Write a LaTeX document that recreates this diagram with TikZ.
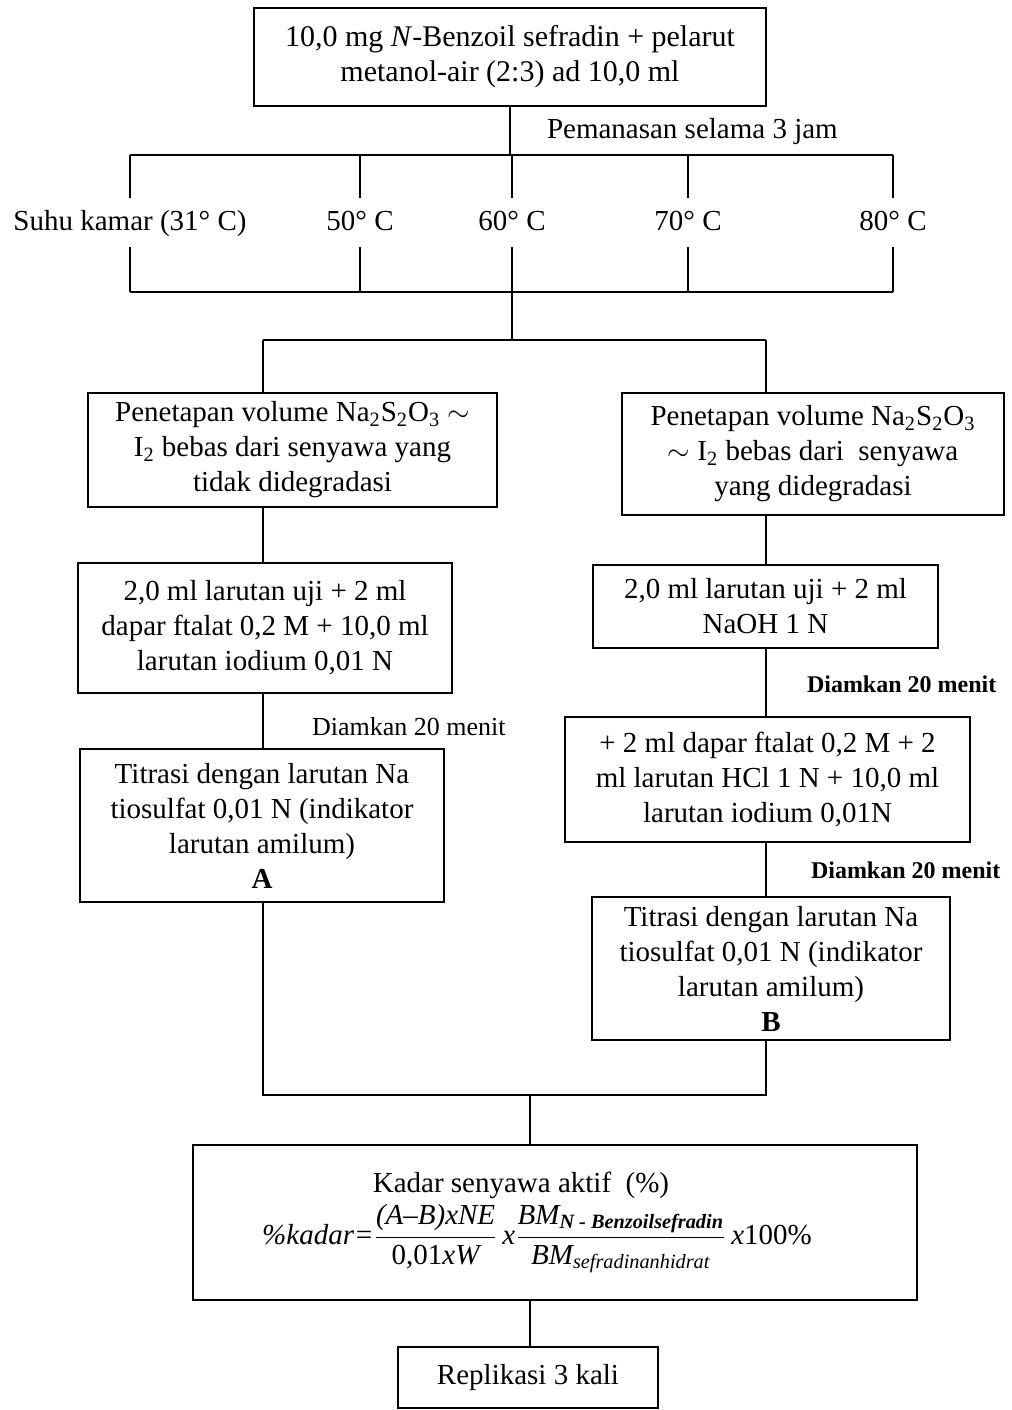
\documentclass[tikz,border=0pt]{standalone}
\usepackage{amsmath}
\usepackage{fontspec}
\setmainfont{Liberation Serif}
\usetikzlibrary{positioning}

\begin{document}
\begin{tikzpicture}[x=0.5pt,y=-0.5pt,line width=1pt,
  box/.style={draw,align=center,inner sep=0pt,font=\fontsize{14.5}{17.5}\selectfont},
  temp/.style={inner sep=0pt,minimum height=23.5pt,text height=10.5pt,text depth=3pt,font=\fontsize{14.5}{17.5}\selectfont},
  note/.style={anchor=west,inner sep=0pt,font=\fontsize{13}{15}\selectfont},
  bnote/.style={anchor=west,inner sep=0pt,font=\fontsize{12}{14}\selectfont\bfseries}]
  \useasboundingbox (0,0) rectangle (1012,1410);
  % sample and heating
  \node[box,minimum width=256pt,minimum height=49pt,font=\fontsize{15}{17.5}\selectfont] (top) at (510,57)
    {10,0 mg \textit{N}-Benzoil sefradin + pelarut\\metanol-air (2:3) ad 10,0 ml};
  \coordinate (heat) at (512,155);
  \coordinate (mix) at (512,292);
  \draw (top.south) -- (top.south |- heat);
  \node[note,font=\fontsize{14.5}{17}\selectfont] (heatlbl) at (546,132) {Pemanasan selama 3 jam};
  \foreach \n/\x/\t in {1/130/{Suhu kamar (31° C)},2/360/{50° C},3/512/{60° C},4/688/{70° C},5/893/{80° C}} {
    \node[temp] (t\n) at (\x,222.5) {\t};
    \draw (t\n.north |- heat) -- (t\n.north);
    \draw (t\n.south) -- (t\n.south |- mix);
  }
  \draw (t1.north |- heat) -- (t5.north |- heat);
  \draw (t1.south |- mix) -- (t5.south |- mix);
  % two ways of titration
  \coordinate (split) at (512,340);
  \coordinate (lcol) at (263,340);
  \coordinate (rcol) at (766,340);
  \draw (mix) -- (split);
  \draw (lcol) -- (rcol);
  \node[box,minimum width=204.5pt,minimum height=57pt] (pen1) at (292.5,450)
    {Penetapan volume Na\textsubscript{2}S\textsubscript{2}O\textsubscript{3} $\sim$\\I\textsubscript{2} bebas dari senyawa yang\\tidak didegradasi};
  \node[box,minimum width=191pt,minimum height=61pt] (pen2) at (813,454)
    {Penetapan volume Na\textsubscript{2}S\textsubscript{2}O\textsubscript{3}\\$\sim$ I\textsubscript{2} bebas dari\ \ senyawa\\yang didegradasi};
  \node[box,minimum width=187pt,minimum height=65pt] (mixA) at (265,628)
    {2,0 ml larutan uji + 2 ml\\dapar ftalat 0,2 M + 10,0 ml\\larutan iodium 0,01 N};
  \node[box,minimum width=182pt,minimum height=76.5pt] (titA) at (262,825.5)
    {Titrasi dengan larutan Na\\tiosulfat 0,01 N (indikator\\larutan amilum)\\\textbf{A}};
  \node[box,minimum width=172.5pt,minimum height=41.5pt] (mixB) at (765.5,606.5)
    {2,0 ml larutan uji + 2 ml\\NaOH 1 N};
  \node[box,minimum width=202.5pt,minimum height=62.5pt] (acidB) at (767.5,779.5)
    {+ 2 ml dapar ftalat 0,2 M + 2\\ml larutan HCl 1 N + 10,0 ml\\larutan iodium 0,01N};
  \node[box,minimum width=179pt,minimum height=71.5pt] (titB) at (771,968.5)
    {Titrasi dengan larutan Na\\tiosulfat 0,01 N (indikator\\larutan amilum)\\\textbf{B}};
  \draw (lcol) -- (lcol |- pen1.north);
  \draw (rcol) -- (rcol |- pen2.north);
  \draw (lcol |- pen1.south) -- (lcol |- mixA.north);
  \draw (lcol |- mixA.south) -- (lcol |- titA.north);
  \draw (rcol |- pen2.south) -- (rcol |- mixB.north);
  \draw (rcol |- mixB.south) -- (rcol |- acidB.north);
  \draw (rcol |- acidB.south) -- (rcol |- titB.north);
  \node[note] (waitA) at (311,727) {Diamkan 20 menit};
  \node[bnote] (waitB) at (806,684) {Diamkan 20 menit};
  \node[bnote] (waitC) at (810,870) {Diamkan 20 menit};
  % result
  \coordinate (join) at (530,1095);
  \draw (lcol |- titA.south) -- (lcol |- join) -- (rcol |- join) -- (rcol |- titB.south);
  \node[box,minimum width=362pt,minimum height=77.5pt] (kadar) at (555,1222.5)
    {Kadar senyawa aktif\ \ (\%)\hspace*{34pt}\\[2pt]
     $\textit{\%kadar=}\dfrac{\textit{(A--B)xNE}}{\textup{0,01}\textit{xW}}\,\textit{x}
      \dfrac{\textit{BM}_{\textbf{\textit{N - Benzoilsefradin}}}}{\textit{BM}_{\textit{sefradinanhidrat}}}\,\textit{x}\textup{100\%}$\hspace*{18pt}};
  \node[box,minimum width=130pt,minimum height=30.5pt] (rep) at (528,1377.5) {Replikasi 3 kali};
  \draw (join) -- (join |- kadar.north);
  \draw (join |- kadar.south) -- (join |- rep.north);
\end{tikzpicture}
\end{document}
